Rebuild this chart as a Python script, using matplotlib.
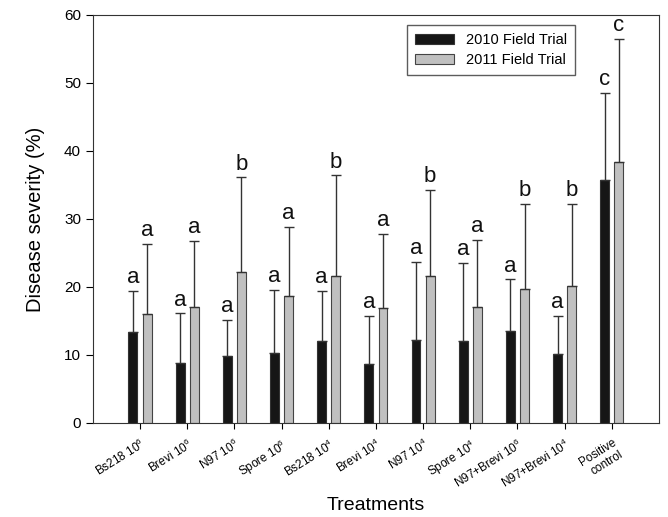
import matplotlib
matplotlib.use("Agg")
import matplotlib.pyplot as plt
import numpy as np

plt.rcParams['font.family'] = ['Liberation Sans', 'DejaVu Sans']
plt.rcParams['mathtext.fontset'] = 'custom'
plt.rcParams['mathtext.rm'] = 'Liberation Sans'

# Treatments and disease severity (%) for both field trials
treatments = ['Bs218 10$^6$', 'Brevi 10$^6$', 'N97 10$^6$', 'Spore 10$^6$',
              'Bs218 10$^4$', 'Brevi 10$^4$', 'N97 10$^4$', 'Spore 10$^4$',
              'N97+Brevi 10$^6$', 'N97+Brevi 10$^4$', 'Positive\ncontrol']
trial_2010 = [13.4, 8.8, 9.9, 10.3, 12.0, 8.7, 12.2, 12.0, 13.5, 10.1, 35.7]
err_2010 = [6.0, 7.3, 5.3, 9.3, 7.4, 7.0, 11.5, 11.5, 7.6, 5.6, 12.8]
trial_2011 = [16.0, 17.1, 22.2, 18.7, 21.6, 16.9, 21.6, 17.0, 19.7, 20.1, 38.4]
err_2011 = [10.3, 9.7, 13.9, 10.1, 14.8, 10.9, 12.7, 9.9, 12.5, 12.1, 18.1]
letters_2010 = ['a', 'a', 'a', 'a', 'a', 'a', 'a', 'a', 'a', 'a', 'c']
letters_2011 = ['a', 'a', 'b', 'a', 'b', 'a', 'b', 'a', 'b', 'b', 'c']

x = np.arange(len(treatments))
w = 0.19
off = 0.15

fig = plt.figure(figsize=(6.68, 5.17), dpi=100)
ax = fig.add_axes([0.139, 0.182, 0.8475, 0.789])

ekw = dict(ecolor='#333333', elinewidth=1.0, capsize=3.5, capthick=1.0)
ax.bar(x - off, trial_2010, w, color='#161616', edgecolor='#333333',
       linewidth=0.8, label='2010 Field Trial',
       yerr=[np.zeros(len(x)), err_2010], error_kw=ekw)
ax.bar(x + off, trial_2011, w, color='#c0c0c0', edgecolor='#444444',
       linewidth=0.8, label='2011 Field Trial',
       yerr=[np.zeros(len(x)), err_2011], error_kw=ekw)

for i in range(len(x)):
    ax.annotate(letters_2010[i], (x[i] - off, trial_2010[i] + err_2010[i]),
                xytext=(0, 2), textcoords='offset points',
                ha='center', va='bottom', fontsize=16, color='#111111')
    ax.annotate(letters_2011[i], (x[i] + off, trial_2011[i] + err_2011[i]),
                xytext=(0, 2), textcoords='offset points',
                ha='center', va='bottom', fontsize=16, color='#111111')

ax.set_xlim(-1, 11)
ax.set_ylim(0, 60)
ax.set_yticks(np.arange(0, 61, 10))
ax.set_xticks(x)
ax.set_xticklabels(treatments, rotation=32, ha='right',
                   rotation_mode='anchor', fontsize=8.5)
ax.tick_params(axis='y', labelsize=11, direction='out', length=5)
ax.tick_params(axis='x', direction='out', length=4, pad=6)
for s in ax.spines.values():
    s.set_color('#333333')

ax.set_ylabel('Disease severity (%)', fontsize=14.5, labelpad=14)
ax.set_xlabel('Treatments', fontsize=14, labelpad=4)

leg = ax.legend(loc='upper right', bbox_to_anchor=(0.852, 0.975),
                borderaxespad=0, fontsize=10.5, fancybox=False,
                handlelength=2.7, handleheight=0.75, borderpad=0.55,
                labelspacing=0.4)
leg.get_frame().set_edgecolor('#333333')
leg.get_frame().set_linewidth(1.0)

plt.savefig('out.png', dpi=100)
